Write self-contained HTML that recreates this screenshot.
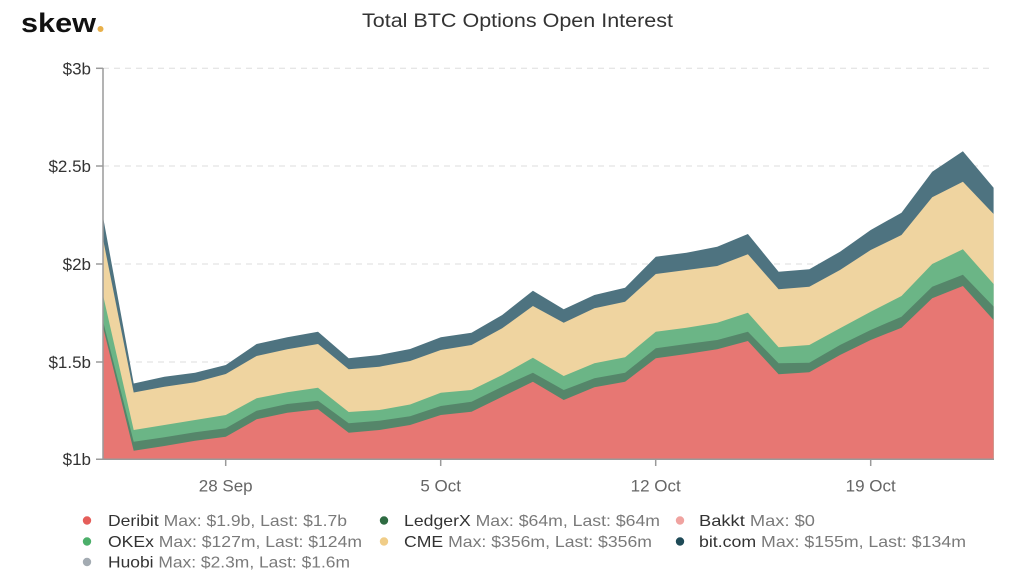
<!DOCTYPE html>
<html><head><meta charset="utf-8"><style>
html,body{margin:0;padding:0;background:#fff;}
svg{display:block;}
text{font-family:"Liberation Sans",sans-serif;}
</style></head><body>
<svg width="1024" height="578" viewBox="0 0 1024 578" xmlns="http://www.w3.org/2000/svg">
<rect width="1024" height="578" fill="#fff"/>
<!-- logo -->
<text x="21" y="32" font-size="27" font-weight="bold" fill="#111" textLength="75" lengthAdjust="spacingAndGlyphs">skew</text>
<circle cx="100.5" cy="29" r="3" fill="#e8b04a"/>
<!-- title -->
<text x="362" y="27" font-size="19" fill="#333" textLength="311" lengthAdjust="spacingAndGlyphs">Total BTC Options Open Interest</text>
<!-- grid -->
<g stroke="#ddd" stroke-width="1" stroke-dasharray="6,5">
<line x1="103" y1="68.3" x2="993" y2="68.3"/>
<line x1="103" y1="166" x2="993" y2="166"/>
<line x1="103" y1="264" x2="993" y2="264"/>
<line x1="103" y1="362" x2="993" y2="362"/>
</g>
<!-- areas -->
<polygon fill="#4e7380" points="103,216.7 133.7,383.5 164.4,376.7 195.1,372.7 225.8,365 256.6,344 287.3,337.3 318,331.7 348.7,358.3 379.4,355 410.1,349 440.8,337.3 471.5,332.7 502.2,315 532.9,290.7 563.7,309.3 594.4,295 625.1,287.7 655.8,256.7 686.5,252.7 717.2,246.7 747.9,234 778.6,271.7 809.3,269.3 840,251.7 870.7,230 901.5,212.7 932.2,171.7 962.9,151.3 993.6,187.7 993.6,459.3 103,459.3"/>
<polygon fill="#efd4a0" points="103,239 133.7,392.5 164.4,386.7 195.1,382.3 225.8,374 256.6,356 287.3,349.3 318,344 348.7,369.3 379.4,366.7 410.1,361 440.8,350 471.5,345 502.2,328.3 532.9,306 563.7,322.7 594.4,308.3 625.1,301.7 655.8,274 686.5,270 717.2,266 747.9,254.3 778.6,289.3 809.3,286.7 840,270 870.7,250 901.5,235 932.2,197.3 962.9,181.7 993.6,214 993.6,459.3 103,459.3"/>
<polygon fill="#6bb586" points="103,295 133.7,430 164.4,425 195.1,420 225.8,415 256.6,398.3 287.3,392.3 318,387.7 348.7,412 379.4,410 410.1,404.5 440.8,392.7 471.5,390 502.2,375 532.9,357.7 563.7,376 594.4,363.3 625.1,357.3 655.8,331.7 686.5,327.7 717.2,322.7 747.9,312.7 778.6,347.3 809.3,345 840,328.3 870.7,311.7 901.5,296 932.2,264 962.9,249.3 993.6,284 993.6,459.3 103,459.3"/>
<polygon fill="#55866a" points="103,321 133.7,441.7 164.4,437.3 195.1,432.3 225.8,428.3 256.6,410.7 287.3,404 318,400.7 348.7,423.3 379.4,420.7 410.1,416.3 440.8,406 471.5,401.7 502.2,386.7 532.9,372.7 563.7,390 594.4,378.3 625.1,372.7 655.8,348.3 686.5,344 717.2,340 747.9,331.7 778.6,363.3 809.3,362.7 840,345 870.7,330 901.5,316.7 932.2,286.7 962.9,274.7 993.6,306.5 993.6,459.3 103,459.3"/>
<polygon fill="#e77773" points="103,327 133.7,450.7 164.4,446 195.1,440.7 225.8,436.7 256.6,419.3 287.3,412.7 318,409.3 348.7,432.7 379.4,430 410.1,425 440.8,415 471.5,411.7 502.2,396.7 532.9,381.7 563.7,400 594.4,387.3 625.1,381.7 655.8,358.3 686.5,354 717.2,349.3 747.9,341 778.6,374.3 809.3,372.3 840,355 870.7,340 901.5,327.7 932.2,298.3 962.9,286 993.6,320 993.6,459.3 103,459.3"/>
<!-- axes -->
<g stroke="#9a9a9a" stroke-width="1.5" fill="none">
<line x1="103" y1="68" x2="103" y2="460"/>
<line x1="96" y1="459.3" x2="994" y2="459.3"/>
<line x1="96" y1="68.3" x2="103" y2="68.3"/>
<line x1="96" y1="166" x2="103" y2="166"/>
<line x1="96" y1="264" x2="103" y2="264"/>
<line x1="96" y1="362" x2="103" y2="362"/>
<line x1="225.7" y1="459" x2="225.7" y2="466"/>
<line x1="440.7" y1="459" x2="440.7" y2="466"/>
<line x1="655.7" y1="459" x2="655.7" y2="466"/>
<line x1="870.7" y1="459" x2="870.7" y2="466"/>
</g>
<!-- y labels -->
<g font-size="17" fill="#333" text-anchor="end">
<text x="91" y="74.3">$3b</text>
<text x="91" y="172">$2.5b</text>
<text x="91" y="270">$2b</text>
<text x="91" y="368">$1.5b</text>
<text x="91" y="465">$1b</text>
</g>
<!-- x labels -->
<g font-size="17" fill="#666" text-anchor="middle">
<text x="225.7" y="491.5">28 Sep</text>
<text x="440.7" y="491.5">5 Oct</text>
<text x="655.7" y="491.5">12 Oct</text>
<text x="870.7" y="491.5">19 Oct</text>
</g>
<!-- legend -->
<g font-size="16">
<circle cx="87" cy="520.5" r="4.2" fill="#e55e5a"/>
<text x="108" y="526" textLength="239" lengthAdjust="spacingAndGlyphs"><tspan fill="#333">Deribit</tspan><tspan fill="#7a7a7a"> Max: $1.9b, Last: $1.7b</tspan></text>
<circle cx="87" cy="541.5" r="4.2" fill="#4caf6a"/>
<text x="108" y="547" textLength="254" lengthAdjust="spacingAndGlyphs"><tspan fill="#333">OKEx</tspan><tspan fill="#7a7a7a"> Max: $127m, Last: $124m</tspan></text>
<circle cx="87" cy="562" r="4.2" fill="#a3abb2"/>
<text x="108" y="567.5" textLength="242" lengthAdjust="spacingAndGlyphs"><tspan fill="#333">Huobi</tspan><tspan fill="#7a7a7a"> Max: $2.3m, Last: $1.6m</tspan></text>

<circle cx="384" cy="520.5" r="4.2" fill="#2e6b42"/>
<text x="404" y="526" textLength="256" lengthAdjust="spacingAndGlyphs"><tspan fill="#333">LedgerX</tspan><tspan fill="#7a7a7a"> Max: $64m, Last: $64m</tspan></text>
<circle cx="384" cy="541.5" r="4.2" fill="#f0cd88"/>
<text x="404" y="547" textLength="248" lengthAdjust="spacingAndGlyphs"><tspan fill="#333">CME</tspan><tspan fill="#7a7a7a"> Max: $356m, Last: $356m</tspan></text>

<circle cx="680" cy="520.5" r="4.2" fill="#f0a3a0"/>
<text x="699" y="526" textLength="116" lengthAdjust="spacingAndGlyphs"><tspan fill="#333">Bakkt</tspan><tspan fill="#7a7a7a"> Max: $0</tspan></text>
<circle cx="680" cy="541.5" r="4.2" fill="#1f4a57"/>
<text x="699" y="547" textLength="267" lengthAdjust="spacingAndGlyphs"><tspan fill="#333">bit.com</tspan><tspan fill="#7a7a7a"> Max: $155m, Last: $134m</tspan></text>
</g>
</svg>
</body></html>
